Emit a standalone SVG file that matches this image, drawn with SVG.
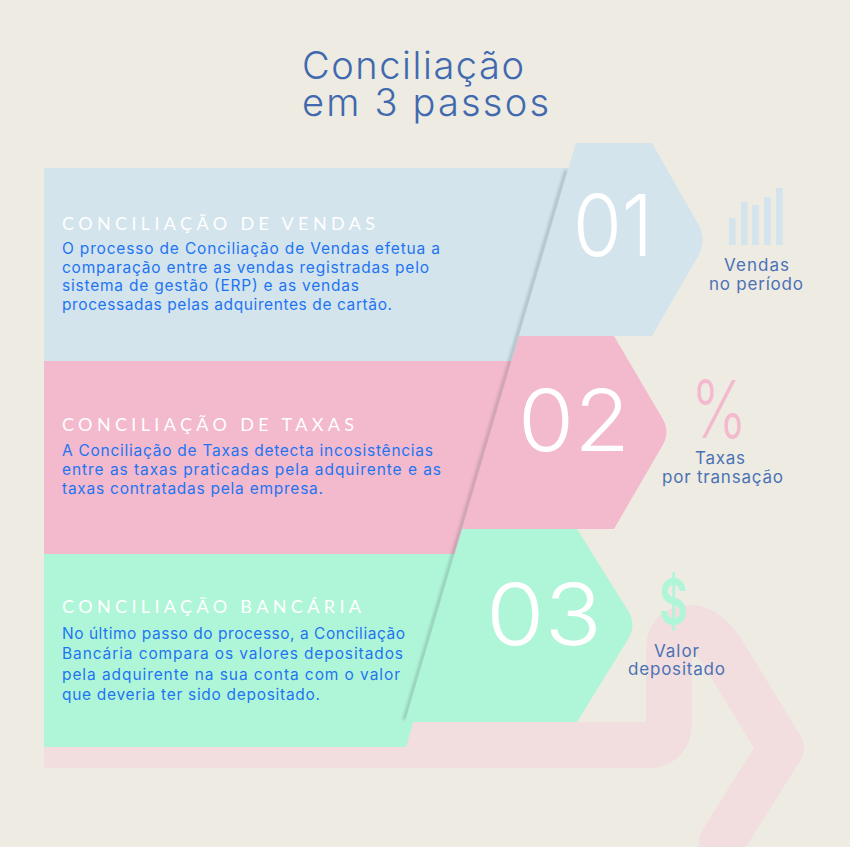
<svg xmlns="http://www.w3.org/2000/svg" width="850" height="847" viewBox="0 0 850 847">
<style>
text{font-family:"Inter","Liberation Sans",sans-serif;font-weight:300}
.t{fill:#4069ae;font-size:38px}
.h{fill:#fff;font-size:18px;font-weight:400;font-family:"Lato","Liberation Sans",sans-serif}
.b{fill:#1f74f2;font-size:15.5px;font-weight:400}
.l{fill:#4b72b4;font-size:17px;font-weight:400}
.n{fill:#fff;font-size:85px;font-weight:300}
</style>
<defs><filter id="s" x="-20%" y="-5%" width="140%" height="110%"><feGaussianBlur stdDeviation="1.4"/></filter></defs>
<rect width="850" height="847" fill="#eeebe3"/>
<g id="band" fill="none" stroke="#f2dedf" stroke-width="46" stroke-linejoin="round">
<path d="M44,745H648Q669,745 669,722V650Q669,628 690,628Q705,628 720,648L781,748L722,842"/>
<circle cx="722" cy="842" r="11.5" stroke-width="23"/>
</g>
<g id="step1-panel"><polygon points="44,168 575,168 520,361 44,361" fill="#d3e4ec"/></g>
<g id="step2-panel"><polygon points="44,361 520,361 463,554 44,554" fill="#f3b9cc"/></g>
<g id="step3-panel"><polygon points="44,554 463,554 406,747 44,747" fill="#aff6d8"/></g>
<path d="M566,170L404,720" stroke="#4a5a60" stroke-opacity=".38" stroke-width="2.4" fill="none" filter="url(#s)"/>
<g id="step3">
<path d="M462,529H577L627,609Q638,625 627,641L577,722H405Z" fill="#aff6d8"/>
<text class="n" x="486" y="645" textLength="116" lengthAdjust="spacingAndGlyphs">03</text>
<text x="659" y="624" font-size="62" fill="#aff6d8" style="font-weight:600" textLength="29" lengthAdjust="spacingAndGlyphs">$</text>
<text class="l" x="654" y="657" textLength="45">Valor</text>
<text class="l" x="628" y="675" textLength="97">depositado</text>
</g>
<g id="step2">
<path d="M519,336H614L661,416Q672,432 661,448L614,529H462Z" fill="#f3b9cc"/>
<text class="n" x="518" y="451" textLength="112" lengthAdjust="spacingAndGlyphs">02</text>
<text x="691" y="438" font-size="80" fill="#f3b9cc" style="font-weight:300" textLength="56" lengthAdjust="spacingAndGlyphs">%</text>
<text class="l" x="695" y="464" textLength="50">Taxas</text>
<text class="l" x="662" y="483" textLength="121">por transação</text>
</g>
<g id="step1">
<path d="M576,143H652L697,222Q708,240 697,258L652,336H519Z" fill="#d3e4ec"/>
<text class="n" x="573" y="256" textLength="80" lengthAdjust="spacingAndGlyphs">01</text>
<g fill="#d3e4ec"><rect x="729" y="218" width="6.6" height="27"/><rect x="741" y="202" width="6.6" height="43"/><rect x="752" y="205" width="6.6" height="40"/><rect x="764" y="197" width="6.6" height="48"/><rect x="776" y="188" width="6.6" height="57"/></g>
<text class="l" x="724" y="271" textLength="65">Vendas</text>
<text class="l" x="709" y="290" textLength="94">no período</text>
</g>
<g id="title">
<text class="t" x="302" y="79" textLength="222">Conciliação</text>
<text class="t" x="302" y="116" textLength="247">em 3 passos</text>
</g>
<g id="step1-text">
<text class="h" x="62" y="230" textLength="313">CONCILIAÇÃO DE VENDAS</text>
<text class="b" x="62" y="254" textLength="378">O processo de Conciliação de Vendas efetua a</text>
<text class="b" x="62" y="273" textLength="367">comparação entre as vendas registradas pelo</text>
<text class="b" x="62" y="291" textLength="297">sistema de gestão (ERP) e as vendas</text>
<text class="b" x="62" y="310" textLength="330">processadas pelas adquirentes de cartão.</text>
</g>
<g id="step2-text">
<text class="h" x="62" y="431" textLength="292">CONCILIAÇÃO DE TAXAS</text>
<text class="b" x="62" y="456" textLength="371">A Conciliação de Taxas detecta incosistências</text>
<text class="b" x="62" y="475" textLength="379">entre as taxas praticadas pela adquirente e as</text>
<text class="b" x="62" y="494" textLength="261">taxas contratadas pela empresa.</text>
</g>
<g id="step3-text">
<text class="h" x="62" y="613" textLength="299">CONCILIAÇÃO BANCÁRIA</text>
<text class="b" x="62" y="639" textLength="343">No último passo do processo, a Conciliação</text>
<text class="b" x="62" y="659" textLength="341">Bancária compara os valores depositados</text>
<text class="b" x="62" y="680" textLength="338">pela adquirente na sua conta com o valor</text>
<text class="b" x="62" y="700" textLength="258">que deveria ter sido depositado.</text>
</g>
</svg>
